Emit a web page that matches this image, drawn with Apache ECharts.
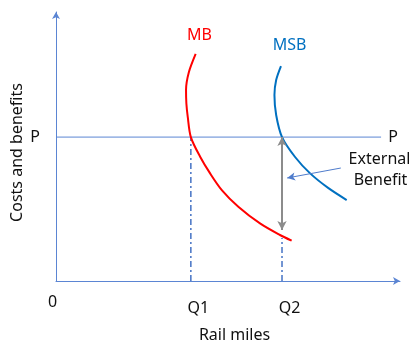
<!DOCTYPE html>
<html>
<head>
<meta charset="utf-8">
<script src="https://cdn.jsdelivr.net/npm/echarts@6/dist/echarts.min.js"></script>
<style>html,body{margin:0;padding:0;background:#fff}#c{width:412px;height:343px}</style>
</head>
<body>
<div id="c"></div>
<script>
// Values in diagram units (x: rail miles 0-100, y: costs and benefits 0-100)
var P = 53.5;
var Q1 = 39.2;
var Q2 = 65.7;
var xTickValues = [0, Q1, Q2];
var xTickLabels = ['0', 'Q1', 'Q2'];
var yTickValues = [P];
var yTickLabels = ['P'];
var mbX = [40.6, 38.6, 37.8, 37.9, 38.3, 39.2, 41.9, 44.8, 48.2, 53.0, 59.3, 65.1, 68.5];
var mbY = [84.4, 77.5, 71.0, 66.0, 61.0, 53.5, 46.2, 40.0, 33.8, 27.6, 21.4, 17.1, 15.0];
var msbX = [65.4, 64.0, 63.5, 64.0, 65.7, 69.5, 73.8, 79.1, 84.5];
var msbY = [79.9, 74.7, 69.1, 61.7, 53.5, 46.1, 40.1, 34.6, 30.1];
var pLineEnd = 94.5;
var q2LineTop = 16.0;
var extBottom = 19.0;
var pointerFrom = [82.8, 42.0];
var pointerTo = [67.2, 38.3];

function zip(a, b) { return a.map(function (v, i) { return [v, b[i]]; }); }

var FONT = 'Noto Sans';
var axisColor = '#5b85d3';
var chart = echarts.init(document.getElementById('c'), null, {renderer: 'canvas'});
chart.setOption({
  animation: false,
  backgroundColor: '#ffffff',
  grid: {left: 56, right: 12, top: 12, bottom: 62},
  xAxis: {
    type: 'value', min: 0, max: 100,
    splitLine: {show: false},
    axisTick: {show: false},
    axisLine: {lineStyle: {color: axisColor, width: 1}, symbol: ['none', 'arrow'], symbolSize: [6, 7]},
    axisLabel: {
      customValues: xTickValues,
      margin: 13,
      formatter: function (v) {
        var i = xTickValues.indexOf(v);
        var t = xTickLabels[i];
        return i === 0 ? '{z|' + t + '}' : '{q|' + t + '}';
      },
      rich: {
        z: {fontFamily: FONT, fontSize: 16, color: '#111', padding: [0, 7, 0, 0]},
        q: {fontFamily: FONT, fontSize: 16, color: '#111', padding: [6, 0, 0, 15]}
      }
    }
  },
  yAxis: {
    type: 'value', min: 0, max: 100,
    splitLine: {show: false},
    axisTick: {show: false},
    axisLine: {lineStyle: {color: axisColor, width: 1}, symbol: ['none', 'arrow'], symbolSize: [6, 7]},
    axisLabel: {
      customValues: yTickValues,
      margin: 16,
      formatter: function (v) { return yTickLabels[yTickValues.indexOf(v)]; },
      fontFamily: FONT, fontSize: 16, color: '#111'
    }
  },
  series: [
    {
      type: 'line', data: [[0, P], [pLineEnd, P]], showSymbol: false, silent: true,
      lineStyle: {color: axisColor, width: 1}
    },
    {
      type: 'line', data: [[Q1, 0], [Q1, P]], showSymbol: false, silent: true,
      lineStyle: {color: '#4472c4', width: 1.5, type: [6, 3, 2, 3]}
    },
    {
      type: 'line', data: [[Q2, 0], [Q2, q2LineTop]], showSymbol: false, silent: true,
      lineStyle: {color: '#4472c4', width: 1.5, type: [6, 3, 2, 3]}
    },
    {
      type: 'line', data: zip(mbX, mbY), showSymbol: false, smooth: 0.3, silent: true,
      lineStyle: {color: '#ff0000', width: 2}
    },
    {
      type: 'line', data: zip(msbX, msbY), showSymbol: false, smooth: 0.3, silent: true,
      lineStyle: {color: '#0070c0', width: 2}
    },
    {
      type: 'line', data: [], silent: true,
      markLine: {
        silent: true, animation: false, label: {show: false},
        data: [
          [{coord: [Q2, P], symbol: 'arrow', symbolSize: [7, 9], lineStyle: {color: '#8c8c8c', width: 2, type: 'solid'}},
           {coord: [Q2, extBottom], symbol: 'arrow', symbolSize: [7, 9]}],
          [{coord: pointerFrom, symbol: 'none', lineStyle: {color: '#4f7ccc', width: 1, type: 'solid'}},
           {coord: pointerTo, symbol: 'arrow', symbolSize: [6, 8]}]
        ]
      }
    }
  ],
  graphic: [
    {type: 'text', x: 199.5, y: 35, style: {text: 'MB', fill: '#ff0000', font: '16px "Noto Sans"', align: 'center', verticalAlign: 'middle'}},
    {type: 'text', x: 289.5, y: 45, style: {text: 'MSB', fill: '#0070c0', font: '16px "Noto Sans"', align: 'center', verticalAlign: 'middle'}},
    {type: 'text', x: 393, y: 137, style: {text: 'P', fill: '#111', font: '16px "Noto Sans"', align: 'center', verticalAlign: 'middle'}},
    {type: 'text', x: 379.5, y: 159, style: {text: 'External', fill: '#111', font: '16px "Noto Sans"', align: 'center', verticalAlign: 'middle'}},
    {type: 'text', x: 380.5, y: 180, style: {text: 'Benefit', fill: '#111', font: '16px "Noto Sans"', align: 'center', verticalAlign: 'middle'}},
    {type: 'text', x: 234.5, y: 335, style: {text: 'Rail miles', fill: '#111', font: '16px "Noto Sans"', align: 'center', verticalAlign: 'middle'}},
    {type: 'text', x: 17.5, y: 152.5, rotation: Math.PI / 2, style: {text: 'Costs and benefits', fill: '#111', font: '16px "Noto Sans"', align: 'center', verticalAlign: 'middle'}}
  ]
});
</script>
</body>
</html>
